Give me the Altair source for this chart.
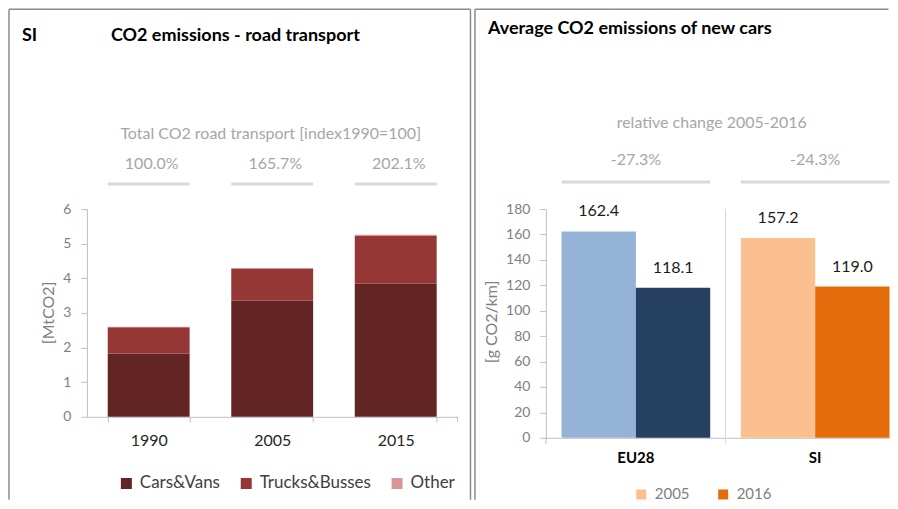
import altair as alt
import pandas as pd

# ---------------- data ----------------
years = ["1990", "2005", "2015"]
cars_vans = [1.83, 3.36, 3.84]
trucks_busses = [0.76, 0.92, 1.38]
other = [0.01, 0.02, 0.04]
index_labels = ["100.0%", "165.7%", "202.1%"]
road_categories = ["Cars&Vans", "Trucks&Busses", "Other"]
road_colors = ["#632523", "#953735", "#D99694"]

regions = ["EU28", "SI"]
new_car_years = ["2005", "2016"]
avg_2005 = [162.4, 157.2]
avg_2016 = [118.1, 119.0]
rel_change = ["-27.3%", "-24.3%"]
car_keys = ["EU28 2005", "EU28 2016", "2005", "2016"]
car_colors = ["#95B3D7", "#254061", "#FAC090", "#E46C0A"]

FONT = "Lato"
GREY_TXT = "#A6A6A6"
AXIS_GREY = "#BFBFBF"
BORDER = "#8C8C8C"

# ---------------- tables ----------------
road_rows = []
for i, y in enumerate(years):
    for o, (cat, vals) in enumerate(zip(road_categories, [cars_vans, trucks_busses, other])):
        road_rows.append({"year": y, "category": cat, "value": vals[i], "order": o})
road_df = pd.DataFrame(road_rows)
idx_df = pd.DataFrame({"year": years, "label": index_labels})

car_rows = []
for i, r in enumerate(regions):
    for yr, vals in zip(new_car_years, [avg_2005, avg_2016]):
        key = yr if r == "SI" else f"{r} {yr}"
        car_rows.append({"region": r, "year": yr, "key": key, "value": vals[i]})
car_df = pd.DataFrame(car_rows)
chg_df = pd.DataFrame({"region": regions, "label": rel_change})

one = pd.DataFrame({"a": [0]})

LW, LH = 371, 208
RW, RH = 344, 229
BOTTOM = 291


def txt(s, x, y, size, color, weight="normal", align="left", angle=0):
    return alt.Chart(pd.DataFrame({"t": [s]})).mark_text(
        align=align, baseline="middle", fontSize=size, color=color,
        fontWeight=weight, angle=angle, font=FONT
    ).encode(text="t:N", x=alt.value(x), y=alt.value(y))


def vrule(x, y1, y2, color=BORDER, w=1.5):
    return alt.Chart(one).mark_rule(color=color, strokeWidth=w).encode(
        x=alt.value(x), y=alt.value(y1), y2=alt.value(y2))


def hrule(x1, x2, y, color=BORDER, w=1.5):
    return alt.Chart(one).mark_rule(color=color, strokeWidth=w).encode(
        x=alt.value(x1), x2=alt.value(x2), y=alt.value(y))


# ---------------- left panel ----------------
left_x = alt.X(
    "year:N", sort=years,
    scale=alt.Scale(paddingInner=0.337, paddingOuter=0.1685),
    axis=alt.Axis(title=None, labelAngle=0, tickBand="extent", tickSize=5,
                  tickColor=AXIS_GREY, domainColor=AXIS_GREY, labelFontSize=16,
                  labelColor="#262626", labelPadding=11, grid=False, labelFont=FONT),
)
left_y = alt.Y(
    "value:Q", stack="zero",
    scale=alt.Scale(domain=[0, 6], nice=False),
    axis=alt.Axis(title=None, values=[0, 1, 2, 3, 4, 5, 6], tickSize=6,
                  tickColor=AXIS_GREY, domainColor=AXIS_GREY, labelFontSize=14,
                  labelColor="#808080", labelPadding=10, grid=False, labelFont=FONT),
)

left_bars = alt.Chart(road_df).mark_bar().encode(
    x=left_x,
    y=left_y,
    color=alt.Color(
        "category:N",
        scale=alt.Scale(domain=road_categories, range=road_colors),
        legend=alt.Legend(title=None, orient="none", legendX=31, legendY=266,
                          direction="horizontal", symbolType="square", symbolSize=121,
                          symbolStrokeWidth=0, labelFontSize=17, labelColor="#404040",
                          columnPadding=17, labelOffset=5, padding=0, labelFont=FONT),
    ),
    order=alt.Order("order:Q"),
)

left_idx = alt.Chart(idx_df).mark_text(
    fontSize=16, color=GREY_TXT, baseline="middle", dx=3, font=FONT
).encode(x=left_x, y=alt.value(-45), text="label:N")

left_lines = alt.Chart(idx_df).mark_bar(color="#D9D9D9").encode(
    x=left_x, y=alt.value(-26.5), y2=alt.value(-23.5))

left_endtick = vrule(LW, LH, LH + 5, color=AXIS_GREY, w=1)

left = alt.layer(
    left_lines, left_bars, left_idx, left_endtick,
    txt("SI", -65, -173, 18, "#000000", "bold"),
    txt("CO2 emissions - road transport", 24, -173, 18, "#000000", "bold"),
    txt("Total CO2 road  transport [index1990=100]", 184, -75, 16, GREY_TXT, align="center"),
    txt("[MtCO2]", -38, 104, 16, "#808080", align="center", angle=270),
    vrule(-78, -200, BOTTOM), hrule(-78, 384, -200), vrule(384, -200, BOTTOM),
).properties(width=LW, height=LH)

# ---------------- right panel ----------------
right_x = alt.X(
    "region:N", sort=regions,
    scale=alt.Scale(paddingInner=0.171, paddingOuter=0.0437, align=1),
    axis=alt.Axis(title=None, labelAngle=0, ticks=False, tickSize=0, domainColor=AXIS_GREY,
                  labelFontSize=15, labelFontWeight="bold", labelColor="#000000",
                  labelPadding=13, grid=False, labelFont=FONT),
)
right_xo = alt.XOffset("year:N", sort=new_car_years,
                       scale=alt.Scale(paddingInner=0, paddingOuter=0))
right_y = alt.Y(
    "value:Q",
    scale=alt.Scale(domain=[0, 180], nice=False),
    axis=alt.Axis(title=None, values=list(range(0, 181, 20)), tickSize=6,
                  tickColor=AXIS_GREY, domainColor=AXIS_GREY, labelFontSize=14,
                  labelColor="#808080", labelPadding=10, grid=False, labelFont=FONT),
)

right_bars = alt.Chart(car_df).mark_bar().encode(
    x=right_x, xOffset=right_xo, y=right_y,
    color=alt.Color(
        "key:N",
        scale=alt.Scale(domain=car_keys, range=car_colors),
        legend=alt.Legend(title=None, values=["2005", "2016"], orient="none",
                          legendX=88, legendY=278, direction="horizontal",
                          symbolType="square", symbolSize=100, symbolStrokeWidth=0,
                          labelFontSize=15, labelColor="#808080", columnPadding=26,
                          labelOffset=6, padding=0, labelFont=FONT),
    ),
)
right_vals = alt.Chart(car_df).mark_text(
    fontSize=16, color="#1A1A1A", baseline="middle", dy=-20, font=FONT
).encode(x=right_x, xOffset=right_xo, y=right_y, text=alt.Text("value:Q", format=".1f"))

right_chg = alt.Chart(chg_df).mark_text(
    fontSize=16, color=GREY_TXT, baseline="middle", font=FONT
).encode(x=right_x, y=alt.value(-49), text="label:N")

right_lines = alt.Chart(chg_df).mark_bar(color="#D9D9D9").encode(
    x=right_x, y=alt.value(-28.5), y2=alt.value(-25.5))

right = alt.layer(
    vrule(179.9, 0, RH + 6, color="#D9D9D9", w=1),
    vrule(0, RH, RH + 6, color=AXIS_GREY, w=1),
    right_lines, right_bars, right_vals, right_chg,
    txt("Average CO2 emissions of new cars", -58, -180, 18, "#000000", "bold"),
    txt("relative change 2005-2016", 166, -86, 16, GREY_TXT, align="center"),
    txt("[g CO2/km]", -54, 113, 16, "#808080", align="center", angle=270),
    vrule(-71, -200, BOTTOM), hrule(-71, 343, -200),
).properties(width=RW, height=RH)

chart = (
    alt.hconcat(left, right, spacing=2.5)
    .resolve_scale(x="independent", y="independent", color="independent")
    .resolve_legend(color="independent")
    .properties(padding=0, background="white")
    .configure(font=FONT)
    .configure_view(stroke=None)
)

chart.save("out.html", embed_options={"renderer": "svg", "actions": False})
